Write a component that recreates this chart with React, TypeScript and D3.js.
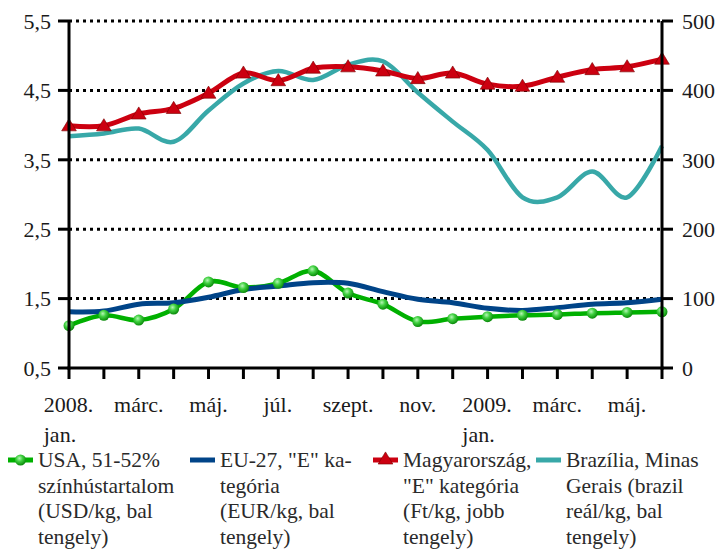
import React, { useEffect, useRef } from 'react';
import * as d3 from 'd3';

// month ids (unique keys for the point scale)
const months = [
  '2008-01', '2008-02', '2008-03', '2008-04', '2008-05', '2008-06', '2008-07', '2008-08', '2008-09',
  '2008-10', '2008-11', '2008-12', '2009-01', '2009-02', '2009-03', '2009-04', '2009-05', '2009-06',
];

// x labels every second month (multi-line)
const tickLabels: string[][] = [
  ['2008.', 'jan.'], ['márc.'], ['máj.'], ['júl.'], ['szept.'], ['nov.'],
  ['2009.', 'jan.'], ['márc.'], ['máj.'],
];

const leftTicks = [0.5, 1.5, 2.5, 3.5, 4.5, 5.5];
const rightTicks = [0, 100, 200, 300, 400, 500];

const usa = [1.11, 1.26, 1.19, 1.35, 1.74, 1.66, 1.72, 1.9, 1.58, 1.42, 1.17, 1.21, 1.24, 1.26, 1.27, 1.29, 1.3, 1.31];
const eu = [1.31, 1.32, 1.42, 1.44, 1.52, 1.63, 1.68, 1.73, 1.72, 1.6, 1.49, 1.44, 1.36, 1.33, 1.37, 1.42, 1.44, 1.49];
const hun = [349, 349, 366, 374, 396, 425, 414, 432, 434, 428, 417, 425, 409, 406, 419, 430, 434, 445];
const bra = [3.84, 3.88, 3.95, 3.76, 4.21, 4.6, 4.78, 4.65, 4.87, 4.92, 4.47, 4.05, 3.64, 2.96, 2.96, 3.33, 2.96, 3.7];

const legendItems = [
  { key: 'usa', x: 8, lines: ['USA, 51-52%', 'színhústartalom', '(USD/kg, bal', 'tengely)'] },
  { key: 'eu', x: 190, lines: ['EU-27, "E" ka-', 'tegória', '(EUR/kg, bal', 'tengely)'] },
  { key: 'hun', x: 373, lines: ['Magyarország,', '"E" kategória', '(Ft/kg, jobb', 'tengely)'] },
  { key: 'bra', x: 536, lines: ['Brazília, Minas', 'Gerais (brazil', 'reál/kg, bal', 'tengely)'] },
];

const colors: Record<string, string> = {
  usa: '#00b000',
  eu: '#004488',
  hun: '#cc0010',
  bra: '#38a8a8',
};

const App: React.FC = () => {
  const ref = useRef<SVGSVGElement | null>(null);

  useEffect(() => {
    const width = 719;
    const height = 551;
    const left = 69, right = 662, top = 21, bottom = 368;
    const font = 'Liberation Serif, serif';

    const svg = d3.select(ref.current)
      .attr('width', width)
      .attr('height', height)
      .style('position', 'absolute')
      .style('left', '0px')
      .style('top', '0px')
      .style('background', '#ffffff');
    svg.selectAll('*').remove();

    const defs = svg.append('defs');
    const grad = defs.append('radialGradient')
      .attr('id', 'ball')
      .attr('cx', '40%').attr('cy', '35%').attr('r', '65%');
    grad.append('stop').attr('offset', '0%').attr('stop-color', '#b6f5b6');
    grad.append('stop').attr('offset', '45%').attr('stop-color', '#3fd03f');
    grad.append('stop').attr('offset', '100%').attr('stop-color', '#0a8a0a');

    const x = d3.scalePoint<string>().domain(months).range([left, right]);
    const yL = d3.scaleLinear().domain([0.5, 5.5]).range([bottom, top]);
    const yR = d3.scaleLinear().domain([0, 500]).range([bottom, top]);

    // dotted gridlines
    svg.append('g').selectAll('line')
      .data(leftTicks.slice(1))
      .join('line')
      .attr('x1', left).attr('x2', right)
      .attr('y1', d => yL(d)).attr('y2', d => yL(d))
      .attr('stroke', '#000')
      .attr('stroke-width', 3)
      .attr('stroke-dasharray', '3,4');

    const lineL = d3.line<number>()
      .x((_, i) => x(months[i])!)
      .y(d => yL(d))
      .curve(d3.curveCardinal);
    const lineR = d3.line<number>()
      .x((_, i) => x(months[i])!)
      .y(d => yR(d))
      .curve(d3.curveCardinal);

    const series: [string, string | null, number][] = [
      ['bra', lineL(bra), 4.5],
      ['usa', lineL(usa), 4.5],
      ['eu', lineL(eu), 5],
      ['hun', lineR(hun), 5],
    ];
    series.forEach(([k, p, w]) => {
      svg.append('path')
        .attr('d', p)
        .attr('fill', 'none')
        .attr('stroke', colors[k])
        .attr('stroke-width', w)
        .attr('stroke-linejoin', 'round');
    });

    const tri = d3.symbol().type(d3.symbolTriangle).size(85);

    svg.append('g').selectAll('circle')
      .data(usa)
      .join('circle')
      .attr('cx', (_, i) => x(months[i])!)
      .attr('cy', d => yL(d))
      .attr('r', 5.5)
      .attr('fill', 'url(#ball)');

    svg.append('g').selectAll('path')
      .data(hun)
      .join('path')
      .attr('d', tri)
      .attr('transform', (d, i) => `translate(${x(months[i])},${yR(d) + 1}) scale(1.05,1)`)
      .attr('fill', '#cc0010')
      .attr('stroke', '#7a0000')
      .attr('stroke-width', 0.6);

    // axes
    const axisG = svg.append('g').attr('stroke', '#000').attr('stroke-width', 3);
    axisG.append('line').attr('x1', left).attr('x2', left).attr('y1', top).attr('y2', bottom + 1.5);
    axisG.append('line').attr('x1', right).attr('x2', right).attr('y1', top).attr('y2', bottom + 1.5);
    axisG.append('line').attr('x1', left - 1.5).attr('x2', right + 1.5).attr('y1', bottom).attr('y2', bottom);
    axisG.selectAll('.lt').data(leftTicks).join('line').attr('class', 'lt')
      .attr('x1', left - 11).attr('x2', left).attr('y1', d => yL(d)).attr('y2', d => yL(d));
    axisG.selectAll('.rt').data(rightTicks).join('line').attr('class', 'rt')
      .attr('x1', right).attr('x2', right + 11).attr('y1', d => yR(d)).attr('y2', d => yR(d));
    axisG.selectAll('.xt').data(months).join('line').attr('class', 'xt')
      .attr('x1', d => x(d)!).attr('x2', d => x(d)!).attr('y1', bottom).attr('y2', bottom + 11);

    const fmt = (v: number) => d3.format('.1f')(v).replace('.', ',');

    svg.append('g').selectAll('text')
      .data(leftTicks)
      .join('text')
      .attr('x', 51)
      .attr('y', d => yL(d))
      .attr('dy', '0.35em')
      .attr('text-anchor', 'end')
      .attr('font-family', font)
      .attr('font-size', 22)
      .attr('fill', '#1a1a1a')
      .text(d => fmt(d));

    svg.append('g').selectAll('text')
      .data(rightTicks)
      .join('text')
      .attr('x', 682)
      .attr('y', d => yR(d))
      .attr('dy', '0.35em')
      .attr('font-family', font)
      .attr('font-size', 22)
      .attr('fill', '#1a1a1a')
      .text(d => String(d));

    // category labels
    const catG = svg.append('g');
    tickLabels.forEach((lines, j) => {
      const cx = x(months[j * 2])!;
      const t = catG.append('text')
        .attr('font-family', font)
        .attr('font-size', 22)
        .attr('fill', '#1a1a1a');
      lines.forEach((ln, k) => {
        t.append('tspan').attr('x', 0).attr('y', 412 + k * 30).text(ln);
      });
      const w = (t.node() as SVGTextElement).getBBox().width;
      t.attr('transform', `translate(${cx - w / 2},0)`);
    });

    // legend
    const lg = svg.append('g');
    legendItems.forEach(item => {
      const my = 460;
      lg.append('line')
        .attr('x1', item.x).attr('x2', item.x + 25)
        .attr('y1', my).attr('y2', my)
        .attr('stroke', colors[item.key])
        .attr('stroke-width', 5);
      if (item.key === 'usa') {
        lg.append('circle').attr('cx', item.x + 12.5).attr('cy', my).attr('r', 5.5).attr('fill', 'url(#ball)');
      }
      if (item.key === 'hun') {
        lg.append('path').attr('d', tri)
          .attr('transform', `translate(${item.x + 12.5},${my}) scale(1.05,1)`)
          .attr('fill', '#cc0010').attr('stroke', '#7a0000').attr('stroke-width', 0.6);
      }
      const t = lg.append('text')
        .attr('font-family', font)
        .attr('font-size', 21.5)
        .attr('fill', '#2a2a2a');
      item.lines.forEach((ln, k) => {
        t.append('tspan').attr('x', item.x + 30).attr('y', 467 + k * 25.5).text(ln);
      });
    });
  }, []);

  return <svg ref={ref}></svg>;
};

export default App;
